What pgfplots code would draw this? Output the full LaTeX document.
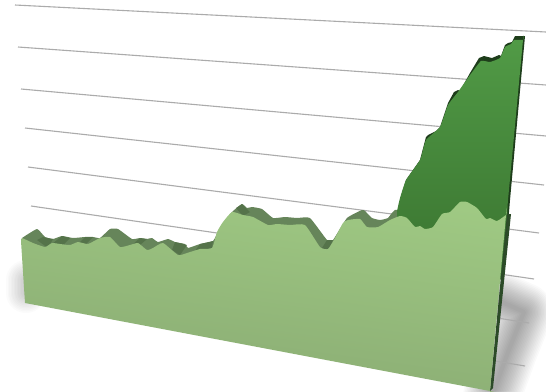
\documentclass[border=0pt]{standalone}
\usepackage{pgfplots}
\pgfplotsset{compat=1.18}
\definecolor{wallline}{HTML}{ABABAB}
\definecolor{sidelight}{HTML}{66855A}
\definecolor{sidefacet}{HTML}{55734A}
\definecolor{frontTop}{HTML}{9FC983}
\definecolor{frontBot}{HTML}{88A972}
\definecolor{darkTop}{HTML}{529C47}
\definecolor{darkBot}{HTML}{39722F}
\definecolor{darkSide}{HTML}{1E3D1B}
\begin{document}
\begin{tikzpicture}
\begin{axis}[
  scale only axis, width=546pt, height=391pt,
  xmin=0, xmax=546, ymin=0, ymax=391, y dir=reverse,
  hide axis, no markers, clip=true,
  every axis plot/.append style={forget plot}]

% page background
\addplot[draw=none, fill=white] coordinates {(0,0) (546,0) (546,391) (0,391)} -- cycle;

% soft cast shadows: one spine stroked ever thinner with a faint tint
\pgfplotsinvokeforeach{58,55,...,4}{
  \addplot[draw=black, line cap=round, line join=round, line width=#1pt, opacity=0.019]
    coordinates {(502,302) (524,312) (508,352) (492,396)};
}
\pgfplotsinvokeforeach{40,37,...,4}{
  \addplot[draw=black, line cap=round, line join=round, line width=#1pt, opacity=0.016]
    coordinates {(26,280) (26,293)};
}

% horizontal gridlines on the wall
\addplot[wallline, line width=1.1pt] coordinates {(15,5) (546,32)};
\addplot[wallline, line width=1.1pt] coordinates {(18,47) (546,85)};
\addplot[wallline, line width=1.1pt] coordinates {(21,89) (546,136)};
\addplot[wallline, line width=1.1pt] coordinates {(25,128) (544,185)};
\addplot[wallline, line width=1.1pt] coordinates {(28,167) (539,233)};
\addplot[wallline, line width=1.1pt] coordinates {(31,206) (534,279)};
\addplot[wallline, line width=1.1pt] coordinates {(34,245) (529,323)};
\addplot[wallline, line width=1.1pt] coordinates {(400,345) (525,366)};

% rear edge of the light series, seen as a side wall
\addplot[draw=none, fill=sidelight, smooth, tension=0.25] coordinates {
 (22,238) (37,229) (45,237) (53,239) (62,236) (73,238) (85,237) (93,237) (100,238)
 (110,229) (118,229) (132,239) (140,238) (147,239) (152,238) (158,242) (168,239)
 (175,242) (185,244) (188,248) (200,244) (213,241) (220,228) (232,212) (242,204)
 (247,208) (252,207) (262,209) (273,218) (285,217) (297,218) (310,218) (327,240)
 (333,240) (347,218) (362,210) (365,211) (372,218) (380,220) (388,218) (397,210)
 (420,260) (22,260)} -- cycle;

% darker facets along the side wall
\addplot[draw=none, fill=sidefacet] coordinates {(37,240) (43,237) (53,239) (48,248)} -- cycle;
\addplot[draw=none, fill=sidefacet] coordinates {(62,236) (70,238) (62,246) (52,244)} -- cycle;
\addplot[draw=none, fill=sidefacet] coordinates {(85,237) (93,237) (85,245) (78,244)} -- cycle;
\addplot[draw=none, fill=sidefacet] coordinates {(140,238) (147,239) (140,245) (132,245)} -- cycle;
\addplot[draw=none, fill=sidefacet] coordinates {(175,242) (187,245) (180,255) (172,250)} -- cycle;
\addplot[draw=none, fill=sidefacet] coordinates {(200,244) (213,241) (212,248) (195,251)} -- cycle;
\addplot[draw=none, fill=sidefacet] coordinates {(236,208) (242,204) (250,212) (243,216)} -- cycle;
\addplot[draw=none, fill=sidefacet] coordinates {(327,240) (333,240) (328,250) (322,248)} -- cycle;

% rear edge of the dark series
\addplot[draw=none, fill=darkSide] coordinates {
 (400,200) (406,180) (420,160) (426,137) (428,135) (436,131) (440,127) (448,103)
 (454,92) (458,90) (460,91) (470,73) (479,58) (484,56) (492,58) (499,55) (501,56)
 (505,45) (508,43) (512,42) (515,36) (525,36) (510,200) (505,260) (400,260)} -- cycle;

% front face of the dark series
\addplot[draw=none, top color=darkTop, bottom color=darkBot, smooth, tension=0.25] coordinates {
 (397,211) (400,198) (406,180) (420,160) (426,140) (440,127) (448,105) (458,92)
 (470,75) (481,61) (490,62) (500,58) (505,47) (511,44) (514,40) (523,40)
 (523,40) (508,200) (500,280) (397,280)} -- cycle;

% side of the light series on the right
\addplot[draw=none, fill=darkSide!80!sidelight] coordinates {(507,214) (511,214) (493,388) (490,391)} -- cycle;

% front face of the light series
\addplot[draw=none, top color=frontTop, bottom color=frontBot, shading angle=-8, smooth, tension=0.3] coordinates {
 (21,241) (22,238) (33,243) (45,247) (52,243) (60,244) (70,245) (78,242) (88,244)
 (100,238) (110,237) (120,247) (130,245) (138,243) (147,250) (153,248) (163,243)
 (178,255) (187,253) (200,249) (212,248) (217,232) (223,222) (232,212) (243,215)
 (253,217) (268,225) (277,224) (290,225) (305,225) (320,247) (328,249) (335,238)
 (343,223) (348,220) (360,219) (367,227) (378,227) (390,220) (400,216) (407,218)
 (415,227) (420,226) (425,229) (433,227) (442,214) (450,212) (460,202) (467,202)
 (477,208) (486,219) (490,218) (497,221) (506,215) (506,215) (490,391) (490,391) (25,303)} -- cycle;
\end{axis}
\end{tikzpicture}
\end{document}
